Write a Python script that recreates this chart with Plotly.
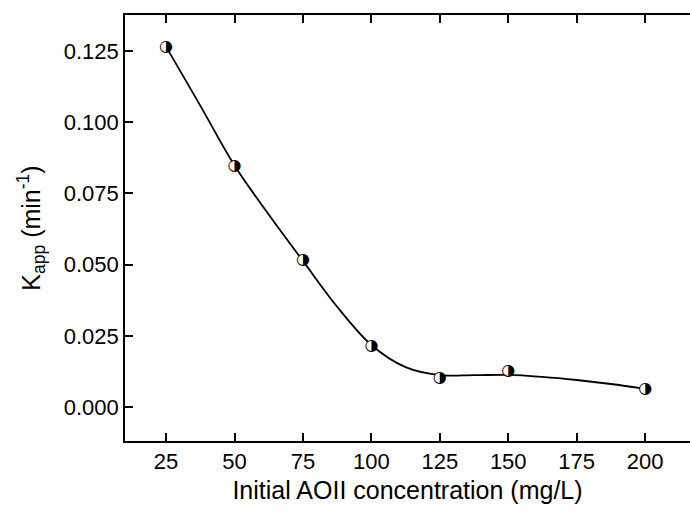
import plotly.graph_objects as go

conc = [25, 50, 75, 100, 125, 150, 200]
kapp = [0.1265, 0.0845, 0.0515, 0.0215, 0.0103, 0.0128, 0.0064]
fit_x = [25, 37.5, 50, 62.5, 75, 87.5, 100, 112.5, 125, 137.5, 150, 162.5, 175, 187.5, 200]
fit_y = [0.1265, 0.1058, 0.0848, 0.0676, 0.0513, 0.0352, 0.0218, 0.0140, 0.0112, 0.0112, 0.0113, 0.0106, 0.0095, 0.0081, 0.0064]
x_ticks = [25, 50, 75, 100, 125, 150, 175, 200]
y_ticks = [0.000, 0.025, 0.050, 0.075, 0.100, 0.125]

fig = go.Figure()
fig.add_trace(go.Scatter(x=fit_x, y=fit_y, mode="lines",
                         line=dict(color="black", width=1.8, shape="spline", smoothing=1.0),
                         hoverinfo="skip", showlegend=False))
fig.add_trace(go.Scatter(x=conc, y=kapp, mode="markers",
                         marker=dict(symbol="circle", size=11, color="white", line=dict(color="white", width=0)),
                         showlegend=False))
fig.add_trace(go.Scatter(x=conc, y=kapp, mode="text", text=["◑"] * len(conc), textposition="middle center",
                         textfont=dict(family="DejaVu Sans", size=16, color="black"), showlegend=False))

font = "Liberation Sans, Arial"
axis_common = dict(showline=True, linecolor="black", linewidth=1.6, ticks="inside", ticklen=8, tickwidth=1.6,
                   tickcolor="black", showgrid=False, zeroline=False,
                   tickfont=dict(family=font, size=22, color="black"))
fig.update_xaxes(range=[10, 216.4], tickvals=x_ticks, mirror="ticks",
                 title=dict(text="Initial AOII concentration (mg/L)", font=dict(family=font, size=25, color="black"), standoff=8),
                 **axis_common)
fig.update_yaxes(range=[-0.0119, 0.1376], tickvals=y_ticks, tickformat=".3f",
                 title=dict(text="K<sub>app</sub> (min<sup>-1</sup>)", font=dict(family=font, size=25, color="black"), standoff=16),
                 **axis_common)
fig.update_layout(width=690, height=512, margin=dict(l=125, r=0, t=15, b=71),
                  plot_bgcolor="white", paper_bgcolor="white", showlegend=False)
fig.write_html("out.html")
